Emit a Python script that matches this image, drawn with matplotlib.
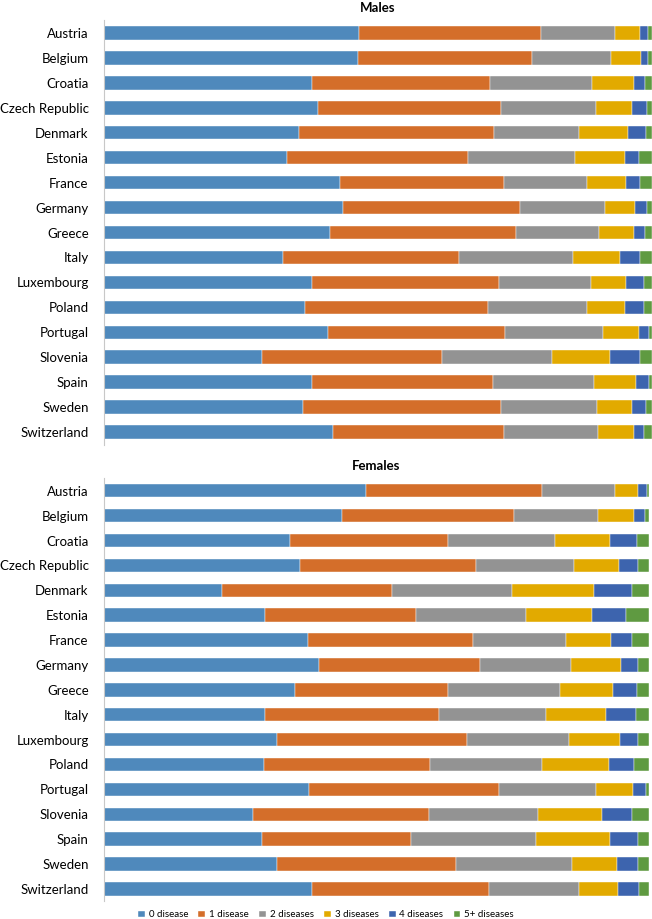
import numpy as np
import matplotlib.pyplot as plt

countries = ["Austria", "Belgium", "Croatia", "Czech Republic", "Denmark", "Estonia",
             "France", "Germany", "Greece", "Italy", "Luxembourg", "Poland",
             "Portugal", "Slovenia", "Spain", "Sweden", "Switzerland"]
series = ["0 disease", "1 disease", "2 diseases", "3 diseases", "4 diseases", "5+ diseases"]
colors = ["#4F89BC", "#D46E2A", "#939393", "#E2AA00", "#3D64AE", "#5F9A41"]

# percentages per country: 0, 1, 2, 3, 4, 5+ diseases
males = [
    [46.5, 33.3, 13.4, 4.7, 1.4, 0.7],
    [46.3, 31.8, 14.5, 5.4, 1.3, 0.7],
    [37.9, 32.5, 18.6, 7.7, 2.0, 1.3],
    [39.1, 33.4, 17.3, 6.6, 2.7, 0.9],
    [35.5, 35.7, 15.5, 8.9, 3.3, 1.1],
    [33.4, 33.0, 19.6, 9.1, 2.5, 2.4],
    [43.1, 29.9, 15.1, 7.2, 2.6, 2.1],
    [43.7, 32.2, 15.6, 5.4, 2.2, 0.9],
    [41.3, 33.9, 15.2, 6.4, 1.9, 1.3],
    [32.6, 32.2, 20.8, 8.5, 3.7, 2.2],
    [37.9, 34.1, 16.9, 6.4, 3.2, 1.5],
    [36.6, 33.4, 18.2, 6.9, 3.4, 1.5],
    [40.9, 32.2, 18.0, 6.5, 1.8, 0.6],
    [28.8, 32.8, 20.1, 10.7, 5.5, 2.1],
    [37.9, 33.0, 18.6, 7.6, 2.3, 0.6],
    [36.3, 36.2, 17.4, 6.5, 2.5, 1.1],
    [41.7, 31.3, 17.1, 6.7, 1.7, 1.5],
]
females = [
    [48.1, 32.3, 13.4, 4.1, 1.7, 0.4],
    [43.7, 31.6, 15.4, 6.5, 2.0, 0.8],
    [34.1, 29.0, 19.7, 10.1, 4.9, 2.2],
    [35.9, 32.3, 18.0, 8.3, 3.4, 2.1],
    [21.7, 31.1, 22.1, 15.0, 6.9, 3.2],
    [29.6, 27.7, 20.1, 12.1, 6.2, 4.3],
    [37.5, 30.2, 17.1, 8.2, 3.9, 3.1],
    [39.4, 29.6, 16.7, 9.1, 3.1, 2.1],
    [35.0, 28.2, 20.5, 9.6, 4.4, 2.3],
    [29.5, 32.0, 19.6, 11.0, 5.5, 2.4],
    [31.8, 34.8, 18.8, 9.2, 3.3, 2.1],
    [29.3, 30.5, 20.6, 12.2, 4.6, 2.8],
    [37.6, 34.8, 17.8, 6.8, 2.4, 0.6],
    [27.3, 32.3, 20.0, 11.8, 5.4, 3.2],
    [28.9, 27.5, 22.8, 13.7, 5.0, 2.1],
    [31.7, 32.8, 21.4, 8.2, 3.8, 2.1],
    [38.2, 32.5, 16.4, 7.2, 3.8, 1.9],
]

plt.rcParams['font.family'] = ['Lato', 'DejaVu Sans']

fig = plt.figure(figsize=(6.52, 9.19), dpi=100)
ax_m = fig.add_axes([0.1595, 0.5163, 0.8405, 0.4614])
ax_f = fig.add_axes([0.1595, 0.0192, 0.836, 0.4603])


def draw(ax, data, title):
    d = np.array(data, dtype=float)
    d = d / d.sum(axis=1, keepdims=True) * 100
    y = np.arange(len(countries))
    left = np.zeros(len(countries))
    for i, s in enumerate(series):
        ax.barh(y, d[:, i], left=left, height=0.54, color=colors[i], label=s,
                edgecolor="white", linewidth=0.3)
        left += d[:, i]
    ax.set_xlim(0, 100)
    ax.set_ylim(len(countries) - 0.5, -0.5)
    ax.set_yticks(y)
    ax.set_yticklabels(countries, fontsize=9.5)
    ax.tick_params(axis="y", length=0, pad=11)
    ax.set_xticks([])
    for sp in ["top", "right", "bottom"]:
        ax.spines[sp].set_visible(False)
    ax.spines["left"].set_color("#C8C8C8")
    ax.spines["left"].set_linewidth(0.8)
    ax.text(0.5, 1.0 + 12.5 / 424, title, transform=ax.transAxes, ha="center",
            va="center", fontsize=9.5, fontweight="bold")


draw(ax_m, males, "Males")
draw(ax_f, females, "Females")

handles, labels = ax_m.get_legend_handles_labels()
fig.legend(handles, labels, loc="center", bbox_to_anchor=(0.5, 0.0045), ncol=6,
           frameon=False, fontsize=7, handlelength=0.7, handleheight=0.7,
           handletextpad=0.4, columnspacing=1.05)

fig.savefig("out.png", dpi=100)
